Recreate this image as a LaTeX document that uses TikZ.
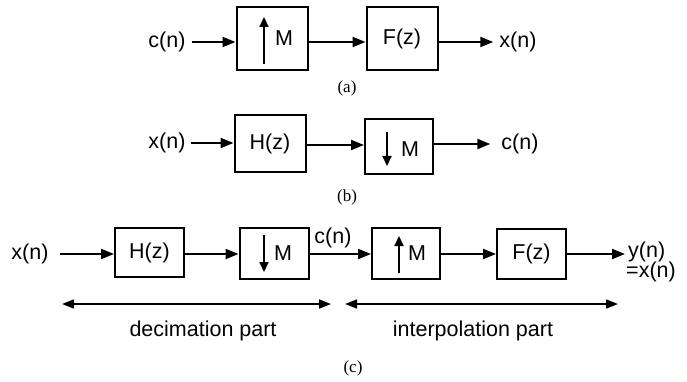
\documentclass[tikz,border=0pt]{standalone}
\usepackage{fontspec}
\setmainfont{Liberation Sans}
\newfontfamily\capfont{Liberation Serif}
\usetikzlibrary{arrows.meta}
\begin{document}
\begin{tikzpicture}[x=1pt,y=-1pt,
  blk/.style={draw,line width=2pt,minimum width=#1,inner sep=0pt},
  sig/.style={font=\fontsize{21.5}{23}\selectfont,inner sep=0pt},
  captxt/.style={font=\capfont\fontsize{17}{19}\selectfont,inner sep=0pt},
  flow/.style={line width=2.1pt,-{Triangle[length=13pt,width=10pt]}},
  both/.style={line width=1.7pt,{Triangle[length=12pt,width=9pt]}-{Triangle[length=12pt,width=9pt]}},
  inarr/.style={line width=2.1pt,-{Triangle[length=10pt,width=9pt]}},
  mtxt/.style={font=\fontsize{21.5}{23}\selectfont,inner sep=0pt}
]
\useasboundingbox (0,0) rectangle (687,382);
% ---------- (a)
\node[blk=71pt,minimum height=63pt] (a1) at (272,39) {};
\node[blk=71pt,minimum height=63pt,sig] (a2) at (402,39) {F(z)};
\node[sig] (acn) at (167,42) {c(n)};
\node[sig] (axn) at (518,42) {x(n)};
\coordinate (a1t) at (264,17);
\coordinate (a1b) at (264,64);
\draw[inarr] (a1b) -- (a1t);
\node[mtxt] (a1m) at (284,38) {M};
\draw[flow,shorten <=6pt] (acn.east) -- (acn.east -| a1.west);
\draw[flow] (a1.east |- acn.east) -- (a2.west |- acn.east);
\draw[flow,shorten >=6pt] (a2.east |- axn.west) -- (axn.west);
\node[captxt] (capa) at (347,88) {(a)};
% ---------- (b)
\node[blk=71pt,minimum height=57pt,sig] (b1) at (270,143.5) {H(z)};
\node[blk=68pt,minimum height=55pt] (b2) at (399,146.5) {};
\coordinate (b2t) at (387,132);
\coordinate (b2b) at (387,166);
\draw[inarr] (b2t) -- (b2b);
\node[mtxt] (b2m) at (410,149) {M};
\node[sig] (bxn) at (167,143) {x(n)};
\node[sig] (bcn) at (520,144) {c(n)};
\draw[flow,shorten <=5pt] (bxn.east) -- (bxn.east -| b1.west);
\draw[flow] (b1.east |- 0,145) -- (b2.west |- 0,145);
\draw[flow,shorten >=11pt] (b2.east |- bcn.west) -- (bcn.west);
\node[captxt] (capb) at (347,197) {(b)};
% ---------- (c)
\node[blk=69pt,minimum height=49pt,sig] (c1) at (149.5,252.5) {H(z)};
\node[blk=69pt,minimum height=51pt] (c2) at (274,253) {};
\node[blk=68pt,minimum height=51pt] (c3) at (406,253.5) {};
\node[blk=69pt,minimum height=50pt,sig] (c4) at (531.5,254) {F(z)};
\coordinate (c2t) at (264,235);
\coordinate (c2b) at (264,272);
\draw[inarr] (c2t) -- (c2b);
\node[mtxt] (c2m) at (283,253) {M};
\coordinate (c3t) at (399,236);
\coordinate (c3b) at (399,273);
\draw[inarr] (c3b) -- (c3t);
\node[mtxt] (c3m) at (417,253) {M};
\node[sig] (cxn) at (30,254) {x(n)};
\node[sig] (ccn) at (333,238) {c(n)};
\node[sig,anchor=west] (cyn) at (628,252) {y(n)};
\node[sig,anchor=west] (cyx) at (626,272) {=x(n)};
\draw[flow,shorten <=11pt] (cxn.east) -- (cxn.east -| c1.west);
\draw[flow] (c1.east |- 0,254) -- (c2.west |- 0,254);
\draw[flow] (c2.east |- 0,254) -- (c3.west |- 0,254);
\draw[flow] (c3.east |- 0,254) -- (c4.west |- 0,254);
\draw[flow,shorten >=3pt] (c4.east |- 0,254) -- (cyn.west |- 0,254);
\coordinate (d1) at (62,304);
\coordinate (d2) at (331,304);
\coordinate (i1) at (345,304);
\coordinate (i2) at (618,304);
\draw[both] (d1) -- (d2);
\draw[both] (i1) -- (i2);
\node[sig] (dec) at (203,331) {decimation part};
\node[sig] (int) at (473,331) {interpolation part};
\node[captxt] (capc) at (353,368) {(c)};
\end{tikzpicture}
\end{document}
